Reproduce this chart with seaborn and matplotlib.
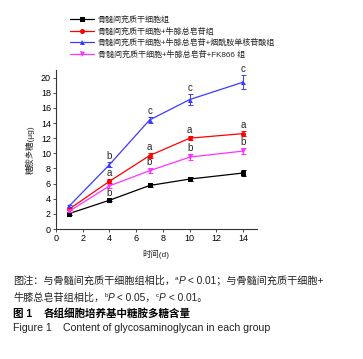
import matplotlib
matplotlib.use("Agg")
import matplotlib.pyplot as plt
import seaborn as sns
import pandas as pd
import numpy as np

sns.set_style("ticks")
plt.rcParams['font.family'] = ['Liberation Sans', 'Noto Sans CJK SC', 'DejaVu Sans']

days = [1, 4, 7, 10, 14]
groups = ["骨髓间充质干细胞组",
          "骨髓间充质干细胞+牛膝总皂苷组",
          "骨髓间充质干细胞+牛膝总皂苷+烟酰胺单核苷酸组",
          "骨髓间充质干细胞+牛膝总皂苷+FK866 组"]
black_vals = [2.05, 3.8, 5.75, 6.6, 7.4]
red_vals = [2.65, 6.3, 9.7, 12.0, 12.6]
blue_vals = [3.05, 8.5, 14.4, 17.1, 19.4]
pink_vals = [2.35, 5.7, 7.7, 9.5, 10.3]
black_err = [0.15, 0.15, 0.25, 0.3, 0.35]
red_err = [0.15, 0.25, 0.3, 0.3, 0.35]
blue_err = [0.15, 0.3, 0.4, 0.75, 0.9]
pink_err = [0.15, 0.25, 0.3, 0.4, 0.45]
red_letters = ["", "a", "a", "a", "a"]
blue_letters = ["", "b", "c", "c", "c"]
pink_letters = ["", "b", "b", "b", "b"]
black_letters = ["", "", "", "", ""]

colors = ["#000000", "#ff0000", "#3b3bff", "#ff33ff"]
markers = ["s", "o", "^", "v"]
vals = [black_vals, red_vals, blue_vals, pink_vals]
errs = [black_err, red_err, blue_err, pink_err]
letters = [black_letters, red_letters, blue_letters, pink_letters]
below = [[False]*5, [False]*5, [False]*5, [False, True, False, False, False]]

rows = []
for g, v in zip(groups, vals):
    for d, y in zip(days, v):
        rows.append({"day": d, "value": y, "group": g})
df = pd.DataFrame(rows)

fig = plt.figure(figsize=(3.63, 3.59), dpi=100)
ax = fig.add_axes([0.154, 0.362, 0.553, 0.443])

sns.lineplot(data=df, x="day", y="value", hue="group", style="group",
             hue_order=groups, style_order=groups,
             palette=colors, markers=markers, dashes=False,
             markersize=3.6, markeredgewidth=0, linewidth=0.9, ax=ax)

for v, e, c in zip(vals, errs, colors):
    ax.errorbar(days, v, yerr=e, fmt="none", ecolor=c, elinewidth=0.7,
                capsize=1.8, capthick=0.7)

for v, e, L, c, bl in zip(vals, errs, letters, colors, below):
    for d, y, err, lab, b in zip(days, v, e, L, bl):
        if not lab:
            continue
        if b:
            ax.text(d, y - err - 0.75, lab, ha="center", va="center", fontsize=7)
        else:
            ax.text(d, y + err + 0.8, lab, ha="center", va="center", fontsize=7)

ax.set_xlim(0, 15)
ax.set_ylim(0, 21)
ax.set_xticks([0, 2, 4, 6, 8, 10, 12, 14])
ax.set_yticks(np.arange(0, 21, 2))
ax.tick_params(labelsize=6.5, length=2, width=0.6, pad=1.5, colors="#333333", labelcolor="black")
for s in ["left", "bottom"]:
    ax.spines[s].set_linewidth(0.8)
    ax.spines[s].set_color("#333333")
sns.despine(ax=ax)
ax.set_xlabel("时间(d)", fontsize=6, labelpad=5)
ax.set_ylabel("糖胺多糖(μg)", fontsize=6, labelpad=4.5)

handles, labs = ax.get_legend_handles_labels()
ax.legend(handles, labs, loc="upper left", bbox_to_anchor=(0.055, 1.365),
          fontsize=5.8, frameon=False, handlelength=3.0, handletextpad=0.4,
          labelspacing=0.45, borderaxespad=0)

renderer = fig.canvas.get_renderer()
CAP = "#222222"


def draw_segments(x, y, segs, size):
    for text, kind in segs:
        kw = dict(fontsize=size, va="baseline", color=CAP)
        yy = y
        if kind == "sup":
            kw["fontsize"] = size * 0.62
            yy = y + 0.012
        elif kind == "it":
            kw["style"] = "italic"
        t = fig.text(x, yy, text, **kw)
        bb = t.get_window_extent(renderer=renderer)
        x += bb.width / fig.bbox.width


draw_segments(0.036, 0.209, [("图注：与骨髓间充质干细胞组相比，", ""), ("a", "sup"), ("P", "it"),
                             (" < 0.01；与骨髓间充质干细胞+", "")], 7.3)
draw_segments(0.036, 0.162, [("牛膝总皂苷组相比，", ""), ("b", "sup"), ("P", "it"), (" < 0.05，", ""),
                             ("c", "sup"), ("P", "it"), (" < 0.01。", "")], 7.3)
fig.text(0.036, 0.117, "图 1", fontsize=7.6, fontweight="bold", va="baseline", color="black")
fig.text(0.121, 0.117, "各组细胞培养基中糖胺多糖含量", fontsize=7.6,
         fontweight="bold", va="baseline", color="black")
fig.text(0.036, 0.078, "Figure 1", fontsize=7.6, va="baseline", color=CAP)
fig.text(0.174, 0.078, "Content of glycosaminoglycan in each group", fontsize=7.6,
         va="baseline", color=CAP)

fig.savefig("out.png", dpi=100, facecolor="white")
